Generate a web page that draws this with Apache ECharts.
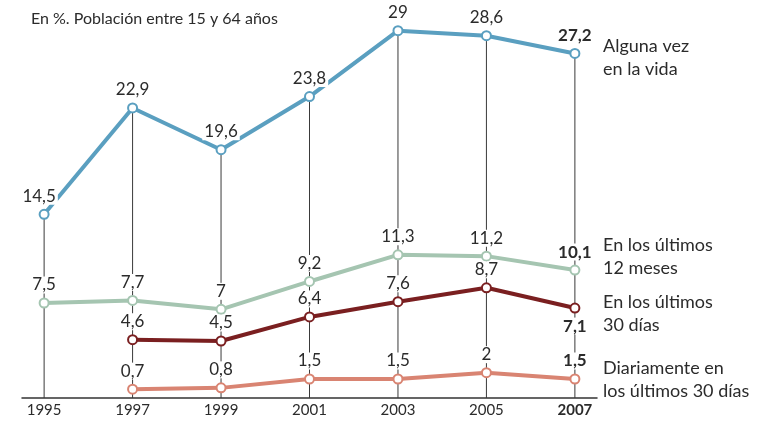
<!DOCTYPE html>
<html>
<head>
<meta charset="utf-8">
<script src="https://cdn.jsdelivr.net/npm/echarts@6/dist/echarts.min.js"></script>
<style>
  html, body { margin:0; padding:0; background:#fff; }
  #chart { width:757px; height:421px; }
</style>
</head>
<body>
<div id="chart"></div>
<script>
const years = [1995, 1997, 1999, 2001, 2003, 2005, 2007];
const alguna = [14.5, 22.9, 19.6, 23.8, 29, 28.6, 27.2];
const meses12 = [7.5, 7.7, 7, 9.2, 11.3, 11.2, 10.1];
const dias30 = [null, 4.6, 4.5, 6.4, 7.6, 8.7, 7.1];
const diario = [null, 0.7, 0.8, 1.5, 1.5, 2, 1.5];

const FONT = 'Lato, "Open Sans", sans-serif';
const TXT = '#2b2b2b';

function pts(vals, lastPos, firstOffset) {
  return vals.map((v, i) => {
    if (v === null) return null;
    const item = { value: [years[i], v] };
    if (i === vals.length - 1) {
      item.label = { fontWeight: 'bold' };
      if (lastPos) item.label.position = lastPos;
    }
    if (i === 0 && firstOffset) item.label = { offset: firstOffset };
    return item;
  }).filter(d => d);
}

function lineSeries(name, vals, color, lastPos, firstOffset) {
  return {
    name, type: 'line', z: 3,
    data: pts(vals, lastPos, firstOffset),
    lineStyle: { color, width: 4 },
    itemStyle: { color: '#fff', borderColor: color, borderWidth: 2 },
    symbol: 'circle', symbolSize: 9, showAllSymbol: true,
    label: {
      show: true, position: 'top', distance: 4,
      fontFamily: FONT, fontSize: 17, color: TXT,
      backgroundColor: '#fff', padding: [0, 2],
      formatter: p => String(p.value[1]).replace('.', ',')
    },
    emphasis: { disabled: true },
    silent: true
  };
}

const legendStyle = { font: '18px ' + FONT, fill: TXT, lineHeight: 23 };

const chart = echarts.init(document.getElementById('chart'));
chart.setOption({
  backgroundColor: '#fff',
  animation: false,
  title: { text: 'En %. Población entre 15 y 64 años', left: 26, top: 6,
    textStyle: { fontFamily: FONT, fontSize: 16, fontWeight: 'normal', color: TXT } },
  grid: { left: 22, right: 160, top: 18, bottom: 23 },
  xAxis: {
    type: 'value', min: 1994.5, max: 2007.5,
    axisLine: { show: true, lineStyle: { color: '#333', width: 1.5 } },
    axisTick: { show: false }, splitLine: { show: false },
    axisLabel: {
      customValues: years, margin: 5,
      fontFamily: FONT, fontSize: 15, color: TXT,
      formatter: v => v === 2007 ? '{b|2007}' : String(v),
      rich: { b: { fontFamily: FONT, fontSize: 15, fontWeight: 'bold', color: TXT } }
    }
  },
  yAxis: { type: 'value', min: 0, max: 30, show: false },
  series: [
    {
      type: 'bar', z: 1, barWidth: 1, silent: true,
      data: alguna.map((v, i) => [years[i], v]),
      itemStyle: { color: '#3a3a3a' }
    },
    lineSeries('Alguna vez en la vida', alguna, '#5a9fc0', null, [-5, 0]),
    lineSeries('En los últimos 12 meses', meses12, '#a5c5b1'),
    lineSeries('En los últimos 30 días', dias30, '#7a1f20', 'bottom'),
    lineSeries('Diariamente en los últimos 30 días', diario, '#d98472')
  ],
  graphic: [
    { type: 'text', left: 603, top: 35, style: Object.assign({ text: 'Alguna vez\nen la vida' }, legendStyle) },
    { type: 'text', left: 603, top: 234, style: Object.assign({ text: 'En los últimos\n12 meses' }, legendStyle) },
    { type: 'text', left: 603, top: 291, style: Object.assign({ text: 'En los últimos\n30 días' }, legendStyle) },
    { type: 'text', left: 603, top: 357, style: Object.assign({ text: 'Diariamente en\nlos últimos 30 días' }, legendStyle) }
  ]
});
</script>
</body>
</html>
